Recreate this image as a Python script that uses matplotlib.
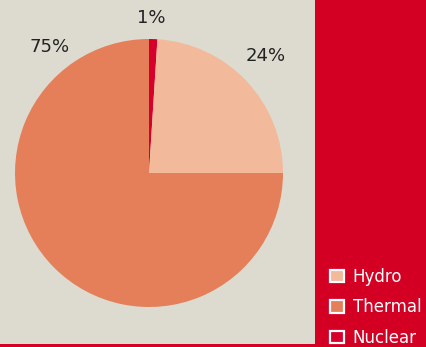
import matplotlib.pyplot as plt
from matplotlib.patches import Patch

sources = ['Nuclear', 'Hydro', 'Thermal']
shares = [1, 24, 75]
colors = ['#d6002a', '#f2b99b', '#e47f5a']
legend_order = ['Hydro', 'Thermal', 'Nuclear']

panel_red = '#d40024'
panel_bg = '#dddbd0'

fig = plt.figure(figsize=(4.27, 3.47), dpi=100, facecolor=panel_red)

# beige panel holding the pie
bg = fig.add_axes([0, 3 / 347, 315 / 427, 344 / 347])
bg.set_facecolor(panel_bg)
bg.set_xticks([])
bg.set_yticks([])
for s in bg.spines.values():
    s.set_visible(False)

ax = fig.add_axes([15 / 427, 40 / 347, 268 / 427, 268 / 347])
ax.set_facecolor('none')
ax.pie(shares, colors=colors, startangle=90, counterclock=False,
       radius=1, wedgeprops=dict(linewidth=0))
ax.set_xlim(-1, 1)
ax.set_ylim(-1, 1)
ax.set_aspect('equal')
ax.axis('off')

# percentage labels around the pie
label_pos = {'Nuclear': (0.02, 1.16), 'Hydro': (0.87, 0.87), 'Thermal': (-0.74, 0.94)}
for name, val in zip(sources, shares):
    x, y = label_pos[name]
    ax.text(x, y, f'{val}%', ha='center', va='center', fontsize=13,
            color='#222222', clip_on=False)

handles = [Patch(facecolor=colors[sources.index(n)], edgecolor='white',
                 linewidth=1.6, label=n) for n in legend_order]
fig.legend(handles=handles, loc='lower left', bbox_to_anchor=(317 / 427, -13 / 347),
           frameon=False, labelcolor='white', fontsize=12,
           handlelength=0.8, handleheight=0.8, handletextpad=0.55,
           labelspacing=0.75, borderpad=0.3)

fig.savefig('out.png', dpi=100, facecolor=panel_red)
